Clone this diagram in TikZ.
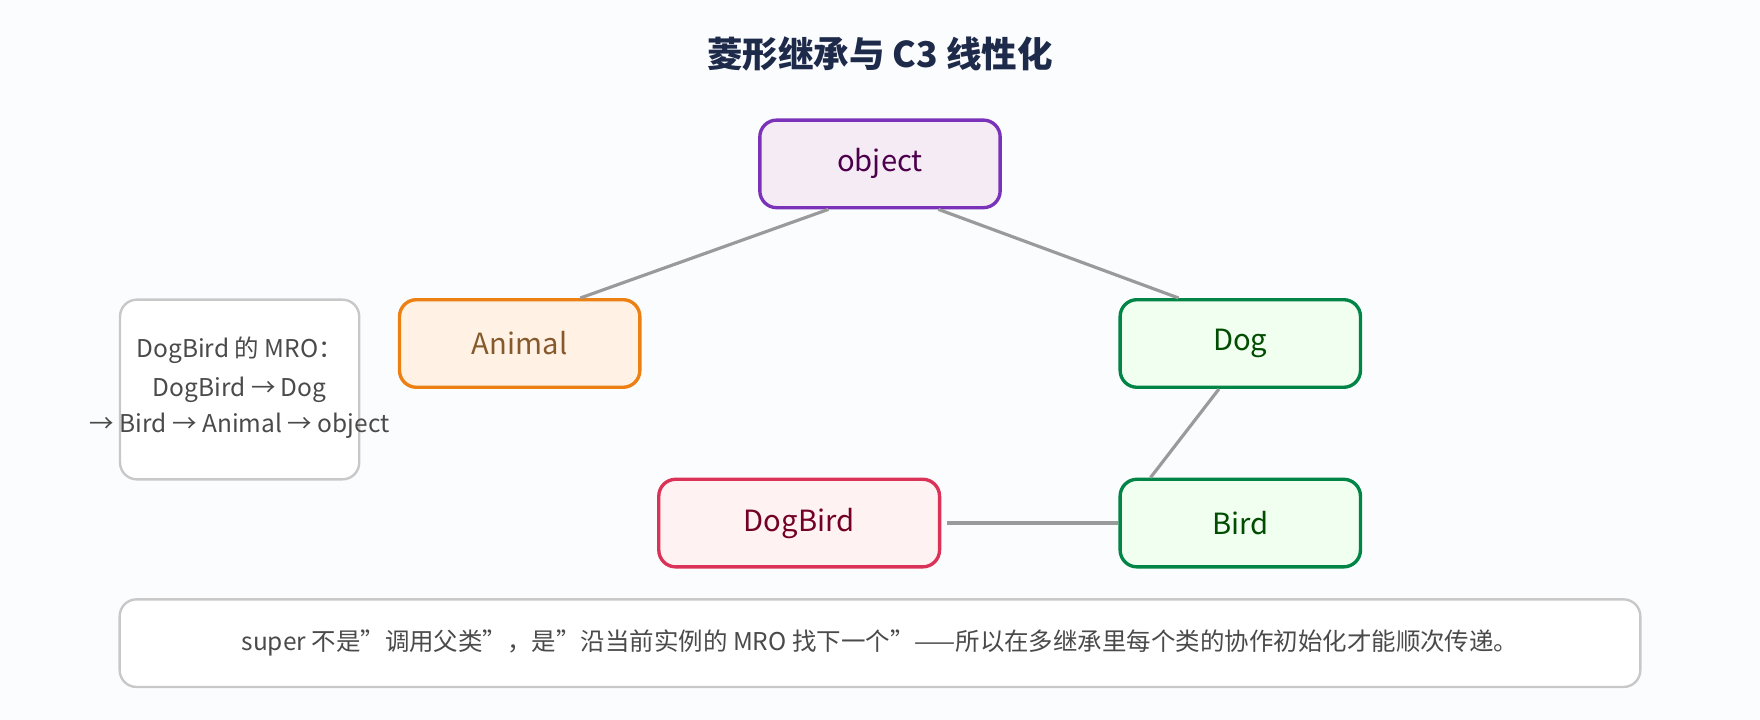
\documentclass[tikz,border=0pt]{standalone}
\usepackage{fontspec}
\setmainfont{Noto Sans CJK SC}
\usetikzlibrary{positioning,calc}
\definecolor{bgpaper}{HTML}{FBFCFE}
\definecolor{titlenavy}{HTML}{1E2A4A}
\definecolor{edgegray}{HTML}{9A9A9A}
\definecolor{notegray}{HTML}{C8C8C8}
\definecolor{notetext}{HTML}{4A4A4A}

\begin{document}
\begin{tikzpicture}[
        x=0.01cm, y=-0.01cm,
        font=\fontsize{7.4}{9}\selectfont,
        cls/.style={rectangle, rounded corners=0.15cm, line width=0.85pt, minimum width=2.14cm, minimum height=0.78cm},
        purplecls/.style={cls, draw=violet!70!blue!80, fill=violet!8, text=violet!60!black},
        ambercls/.style={cls, draw=orange!70!brown, fill=orange!10, text=brown!70!black},
        greencls/.style={cls, draw=teal!70!green!80!black, fill=green!6, text=green!30!black},
        rosecls/.style={cls, draw=purple!70!red!80, fill=pink!20, text=purple!60!black, minimum width=2.5cm},
        link/.style={draw=edgegray, line width=0.8pt},
        note/.style={rectangle, rounded corners=0.15cm, draw=notegray, fill=white, line width=0.6pt, text=notetext}
    ]
        \fill[bgpaper] (0,0) rectangle (1568,641);

        \node[font=\fontsize{9}{11}\selectfont\bfseries, text=titlenavy] (title) at (784,48) {菱形继承与 C3 线性化};

        \node[purplecls] (object) at (784,146) {object};
        \node[ambercls] (animal) at (463,306) {Animal};
        \node[greencls] (dog) at (1105,306) {Dog};
        \node[greencls] (bird) at (1105,466) {Bird};
        \node[rosecls] (dogbird) at (712,466) {DogBird};

        \node[note, minimum width=2.13cm, minimum height=1.6cm] (mrobox) at (213.5,347) {};
        \node[text=notetext, align=center, font=\fontsize{6.2}{9}\selectfont] (mro) at (213.5,345)
            {DogBird 的 MRO：\\[1pt] DogBird → Dog\\→ Bird → Animal → object};

        \node[note, minimum width=13.54cm, minimum height=0.78cm,
              font=\fontsize{6.2}{8}\selectfont] (moral) at (784,573)
            {super 不是"调用父类"，是"沿当前实例的 MRO 找下一个"——所以在多继承里每个类的协作初始化才能顺次传递。};

        \draw[link] ($(object.south)+(-46,0)$) -- ($(animal.north)+(54,0)$);
        \draw[link] ($(object.south)+(52,0)$) -- ($(dog.north)+(-55,0)$);
        \draw[link] ($(dog.south)+(-19,0)$) -- ($(bird.north)+(-80,0)$);
        \draw[link] ($(dogbird.east)+(5,0)$) -- (bird.west);
\end{tikzpicture}
\end{document}
